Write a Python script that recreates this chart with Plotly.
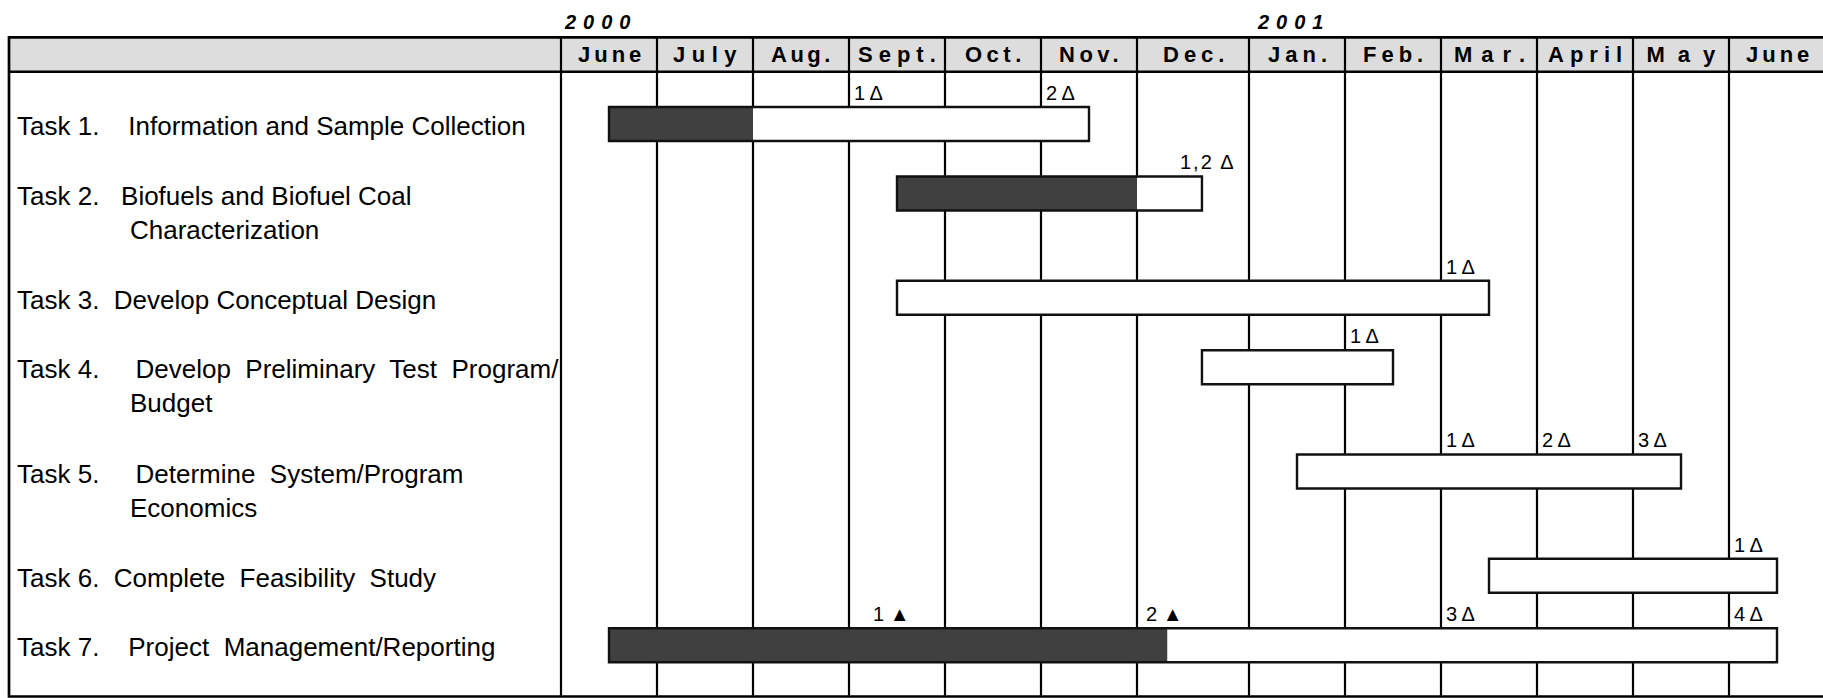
import json
import plotly.graph_objects as go

# ---------------- data ----------------
months = ["June", "July", "Aug.", "Sept.", "Oct.", "Nov.", "Dec.",
          "Jan.", "Feb.", "Mar.", "April", "May", "June"]
month_widths = [1, 1, 1, 1, 1, 1, 1.1667, 1, 1, 1, 1, 1, 1]
years = ["2000", "2001"]
year_first_month = [0, 7]

task_lines = [
    ["Task 1.\u00a0\u00a0\u00a0\u00a0Information and Sample Collection"],
    ["Task 2.\u00a0\u00a0\u00a0Biofuels and Biofuel Coal", "Characterization"],
    ["Task 3.\u00a0\u00a0Develop Conceptual Design"],
    ["Task 4.\u00a0\u00a0\u00a0\u00a0\u00a0Develop\u00a0 Preliminary\u00a0 Test\u00a0 Program/", "Budget"],
    ["Task 5.\u00a0\u00a0\u00a0\u00a0\u00a0Determine\u00a0 System/Program", "Economics"],
    ["Task 6.\u00a0\u00a0Complete\u00a0 Feasibility\u00a0 Study"],
    ["Task 7.\u00a0\u00a0\u00a0\u00a0Project\u00a0 Management/Reporting"],
]
# positions in months from start of June 2000
task_start = [0.5, 3.5, 3.5, 6.58, 7.5, 9.5, 0.5]
task_end = [5.5, 6.58, 9.5, 8.5, 11.5, 12.5, 12.5]
task_done = [2.0, 6.0, None, None, None, None, 6.27]

ms_task = [0, 0, 1, 2, 3, 4, 4, 4, 5, 6, 6, 6, 6]
ms_month = [3.0, 5.0, 6.34, 9.0, 8.0, 9.0, 10.0, 11.0, 12.0, 3.2, 6.04, 9.0, 12.0]
ms_label = ["1 Δ", "2 Δ", "1,2 Δ", "1 Δ", "1 Δ", "1 Δ", "2 Δ", "3 Δ", "1 Δ",
            "1 ▲", "2 ▲", "3 Δ", "4 Δ"]

# ---------------- scales ----------------
edges = [0.0]
for w in month_widths:
    edges.append(edges[-1] + w)


def pos(m):
    i = min(int(m), len(month_widths) - 1)
    return edges[i] + (m - i) * month_widths[i]


row_y = []
acc = 0.0
for lines in task_lines:
    row_y.append(acc)
    acc += 1 + 0.5 * (len(lines) - 1)

W, H = 1823, 698
PXM, PXR = 96.0, 69.5       # px per month, px per row unit
OX, OY = 561.0, 124.0       # px of month 0, row 0


def ux(px):
    return (px - OX) / PXM


def uy(px):
    return (px - OY) / PXR


x_range = [ux(0), ux(W)]
y_range = [uy(H), uy(0)]

y_head_top, y_head_bot, y_frame_bot = uy(37.3), uy(71.7), uy(696.5)
x_frame_l, x_frame_r = ux(9), ux(W + 20)
bar_w = 0.49

FONT = "Liberation Sans, Arial, Helvetica, sans-serif"

# letter spacing (px) applied to some texts
month_sp = {"June": 4, "July": 6.5, "Aug.": 3.5, "Sept.": 6, "Oct.": 4.5, "Nov.": 4.5,
            "Dec.": 5, "Jan.": 5, "Feb.": 5, "Mar.": 9, "April": 6, "May": 13}
year_sp = 7
year_offset_px = [1, 6]
spacing = dict(month_sp)
spacing.update({y: year_sp for y in years})
spacing["1,2 Δ"] = 2

fig = go.Figure()

base = [pos(s) for s in task_start]
length = [pos(e) - pos(s) for s, e in zip(task_start, task_end)]
fig.add_trace(go.Bar(y=row_y, x=length, base=base, orientation="h", width=bar_w,
                     marker=dict(color="white", line=dict(width=0)), hoverinfo="skip"))

dy, dx, db = [], [], []
for i, d in enumerate(task_done):
    if d is not None:
        dy.append(row_y[i])
        db.append(pos(task_start[i]))
        dx.append(pos(d) - pos(task_start[i]))
fig.add_trace(go.Bar(y=dy, x=dx, base=db, orientation="h", width=bar_w,
                     marker=dict(color="#404040", line=dict(width=0)), hoverinfo="skip"))

fig.add_trace(go.Bar(y=row_y, x=length, base=base, orientation="h", width=bar_w,
                     marker=dict(color="rgba(0,0,0,0)", line=dict(color="#111", width=2.4)),
                     hoverinfo="skip"))

shapes = []
shapes.append(dict(type="rect", xref="x", yref="y", x0=x_frame_l, x1=x_frame_r,
                   y0=y_head_top, y1=y_head_bot, fillcolor="#dddddd",
                   line=dict(width=0), layer="below"))
for e in edges:
    shapes.append(dict(type="line", xref="x", yref="y", x0=e, x1=e,
                       y0=y_head_top, y1=y_frame_bot,
                       line=dict(color="black", width=2.2), layer="below"))
shapes.append(dict(type="line", xref="x", yref="y", x0=x_frame_l, x1=x_frame_r,
                   y0=y_head_bot, y1=y_head_bot, line=dict(color="black", width=2.6),
                   layer="below"))
shapes.append(dict(type="rect", xref="x", yref="y", x0=x_frame_l, x1=x_frame_r,
                   y0=y_head_top, y1=y_frame_bot, fillcolor="rgba(0,0,0,0)",
                   line=dict(color="black", width=2.7), layer="below"))


def comp(text):
    # compensate the shift that letter spacing gives a centred svg text
    return spacing.get(text, 0) / 2 * len(text)


ann = []
for i, m in enumerate(months):
    ann.append(dict(x=(edges[i] + edges[i + 1]) / 2, y=(y_head_top + y_head_bot) / 2,
                    xref="x", yref="y", text=m, showarrow=False,
                    xshift=spacing.get(m, 0) / 2,
                    font=dict(family=FONT, size=22, color="black", weight="bold")))
for k, (yr, mi) in enumerate(zip(years, year_first_month)):
    ann.append(dict(x=edges[mi] + year_offset_px[k] / PXM, y=uy(22), xref="x", yref="y",
                    text=yr, showarrow=False, xanchor="left", xshift=comp(yr),
                    font=dict(family=FONT, size=20, color="black", weight="bold",
                              style="italic")))
for i, lines in enumerate(task_lines):
    for j, line in enumerate(lines):
        ann.append(dict(x=ux(15) if j == 0 else ux(128), y=row_y[i] + 0.03 + 0.49 * j,
                        xref="x", yref="y", text=line, showarrow=False, xanchor="left",
                        font=dict(family=FONT, size=26, color="black")))
for t, m, lab in zip(ms_task, ms_month, ms_label):
    ann.append(dict(x=pos(m), y=row_y[t] - bar_w / 2, xref="x", yref="y", text=lab,
                    showarrow=False, xanchor="left", yanchor="bottom",
                    xshift=3 + comp(lab), yshift=1,
                    font=dict(family=FONT, size=20, color="black")))

fig.update_layout(
    width=W, height=H, margin=dict(l=0, r=0, t=0, b=0),
    paper_bgcolor="white", plot_bgcolor="white", showlegend=False,
    barmode="overlay",
    xaxis=dict(range=x_range, visible=False, fixedrange=True),
    yaxis=dict(range=y_range, visible=False, fixedrange=True),
    shapes=shapes, annotations=ann,
)

post = """
document.body.style.margin = '0';
var gd = document.getElementById('{plot_id}');
var sp = SPACING;
function ls(){
  gd.querySelectorAll('text.annotation-text').forEach(function(t){
    var k = t.textContent;
    if (sp.hasOwnProperty(k)) { t.style.letterSpacing = sp[k] + 'px'; }
  });
}
ls();
gd.on('plotly_afterplot', ls);
""".replace("SPACING", json.dumps(spacing))

fig.write_html("out.html", post_script=post, config={"displayModeBar": False})
